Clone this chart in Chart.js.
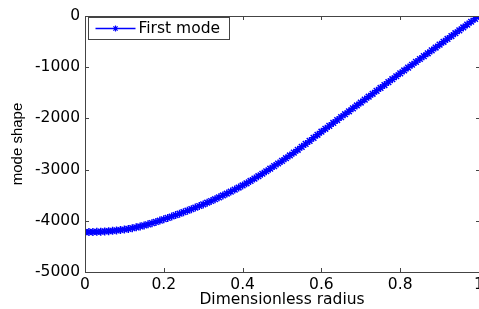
<!DOCTYPE html>
<html>
<head>
<meta charset="utf-8">
<script src="https://cdn.jsdelivr.net/npm/chart.js@4.4.1/dist/chart.umd.min.js"></script>
<style>
  html, body { margin: 0; padding: 0; background: #fff; overflow: hidden; }
  canvas { display: block; }
</style>
</head>
<body>
<canvas id="chart" width="479" height="309"></canvas>
<script>
// raio adimensional (eixo x)
const radius = [
  0.00, 0.01, 0.02, 0.03, 0.04, 0.05, 0.06, 0.07, 0.08, 0.09,
  0.10, 0.11, 0.12, 0.13, 0.14, 0.15, 0.16, 0.17, 0.18, 0.19,
  0.20, 0.21, 0.22, 0.23, 0.24, 0.25, 0.26, 0.27, 0.28, 0.29,
  0.30, 0.31, 0.32, 0.33, 0.34, 0.35, 0.36, 0.37, 0.38, 0.39,
  0.40, 0.41, 0.42, 0.43, 0.44, 0.45, 0.46, 0.47, 0.48, 0.49,
  0.50, 0.51, 0.52, 0.53, 0.54, 0.55, 0.56, 0.57, 0.58, 0.59,
  0.60, 0.61, 0.62, 0.63, 0.64, 0.65, 0.66, 0.67, 0.68, 0.69,
  0.70, 0.71, 0.72, 0.73, 0.74, 0.75, 0.76, 0.77, 0.78, 0.79,
  0.80, 0.81, 0.82, 0.83, 0.84, 0.85, 0.86, 0.87, 0.88, 0.89,
  0.90, 0.91, 0.92, 0.93, 0.94, 0.95, 0.96, 0.97, 0.98, 0.99,
  1.00
];

// forma do modo
const modeShape = [
  -4220, -4220, -4218, -4215, -4212, -4207, -4202, -4195, -4188, -4180,
  -4170, -4158, -4144, -4128, -4110, -4090, -4069, -4046, -4022, -3996,
  -3970, -3943, -3916, -3888, -3860, -3831, -3802, -3772, -3742, -3711,
  -3680, -3647, -3613, -3578, -3542, -3505, -3468, -3430, -3391, -3351,
  -3310, -3267, -3222, -3176, -3129, -3081, -3032, -2982, -2932, -2881,
  -2830, -2778, -2724, -2669, -2613, -2556, -2498, -2439, -2380, -2320,
  -2260, -2203, -2146, -2089, -2032, -1975, -1918, -1861, -1804, -1747,
  -1690, -1633, -1576, -1519, -1462, -1405, -1348, -1291, -1234, -1177,
  -1120, -1064, -1008, -952, -896, -840, -784, -728, -672, -616,
  -560, -504, -448, -392, -336, -280, -224, -168, -112, -56,
  0
];

const xTicks = [0, 0.2, 0.4, 0.6, 0.8, 1];
const yTicks = [-5000, -4000, -3000, -2000, -1000, 0];
const seriesLabel = 'First mode';
const xTitle = 'Dimensionless radius';
const yTitle = 'mode shape';

const axisColor = '#444';
const lineColor = '#0000ff';
const tickFont = { family: 'DejaVu Sans', size: 15.5 };

// Caixa estilo MATLAB com ticks para dentro (borda direita fica fora da imagem)
const boxPlugin = {
  id: 'box',
  afterDatasetsDraw(chart) {
    const { ctx, chartArea: a, scales } = chart;
    const L = a.left + 0.5, T = a.top + 0.5, B = a.bottom + 0.5;
    ctx.save();
    ctx.strokeStyle = axisColor;
    ctx.lineWidth = 1;
    ctx.beginPath();
    ctx.moveTo(a.right + 2, T); ctx.lineTo(L, T); ctx.lineTo(L, B); ctx.lineTo(a.right + 2, B);
    xTicks.forEach(v => {
      const x = Math.round(scales.x.getPixelForValue(v)) + 0.5;
      ctx.moveTo(x, a.bottom); ctx.lineTo(x, a.bottom - 4);
      ctx.moveTo(x, a.top); ctx.lineTo(x, a.top + 4);
    });
    yTicks.forEach(v => {
      const y = Math.round(scales.y.getPixelForValue(v)) + 0.5;
      ctx.moveTo(a.left, y); ctx.lineTo(a.left + 4, y);
      ctx.moveTo(a.right + 1, y); ctx.lineTo(a.right - 3, y);
    });
    ctx.stroke();

    // rotulos do eixo x posicionados pela escala (o ultimo sai da imagem)
    ctx.fillStyle = '#000';
    ctx.font = tickFont.size + 'px "' + tickFont.family + '"';
    ctx.textAlign = 'center';
    ctx.textBaseline = 'top';
    xTicks.forEach(v => {
      ctx.fillText(String(v), scales.x.getPixelForValue(v), a.bottom + 5);
    });
    ctx.restore();
  }
};

// Legenda dentro da area do grafico
const legendPlugin = {
  id: 'boxLegend',
  afterDraw(chart) {
    const { ctx, chartArea: a } = chart;
    const ds = chart.data.datasets[0];
    const bx = a.left + 3.5, by = a.top + 1.5, bw = 141, bh = 22;
    ctx.save();
    ctx.fillStyle = '#fff';
    ctx.fillRect(bx, by, bw, bh);
    ctx.strokeStyle = axisColor;
    ctx.lineWidth = 1;
    ctx.strokeRect(bx, by, bw, bh);
    const cy = by + bh / 2;
    ctx.strokeStyle = ds.borderColor;
    ctx.lineWidth = 1.5;
    ctx.beginPath();
    ctx.moveTo(bx + 7, cy); ctx.lineTo(bx + 47, cy);
    ctx.stroke();
    const mx = bx + 27, r = 3;
    ctx.lineWidth = 1.2;
    ctx.beginPath();
    ctx.moveTo(mx - r, cy); ctx.lineTo(mx + r, cy);
    ctx.moveTo(mx, cy - r); ctx.lineTo(mx, cy + r);
    ctx.moveTo(mx - r * 0.7, cy - r * 0.7); ctx.lineTo(mx + r * 0.7, cy + r * 0.7);
    ctx.moveTo(mx - r * 0.7, cy + r * 0.7); ctx.lineTo(mx + r * 0.7, cy - r * 0.7);
    ctx.stroke();
    ctx.fillStyle = '#000';
    ctx.font = '15.5px "DejaVu Sans"';
    ctx.textBaseline = 'middle';
    ctx.textAlign = 'left';
    ctx.fillText(ds.label, bx + 50, cy + 0.5);
    ctx.restore();
  }
};

new Chart(document.getElementById('chart'), {
  type: 'line',
  data: {
    datasets: [{
      label: seriesLabel,
      data: radius.map((r, i) => ({ x: r, y: modeShape[i] })),
      borderColor: lineColor,
      backgroundColor: lineColor,
      borderWidth: 1.5,
      pointStyle: 'star',
      pointRadius: 4,
      pointBorderColor: lineColor,
      pointBorderWidth: 1.5,
      fill: false,
      tension: 0
    }]
  },
  options: {
    responsive: false,
    animation: false,
    // sem autoPadding: os marcadores nao empurram a borda direita
    layout: { autoPadding: false, padding: { top: 16, right: 0, left: 0, bottom: 0 } },
    plugins: {
      legend: { display: false },
      tooltip: { enabled: false }
    },
    scales: {
      x: {
        type: 'linear',
        min: 0,
        max: 1,
        afterBuildTicks: s => { s.ticks = xTicks.map(v => ({ value: v })); },
        afterFit: s => { s.height = 37; },
        grid: { display: false, drawTicks: false, tickLength: 0 },
        border: { display: false },
        ticks: { display: false },
        title: {
          display: true, text: xTitle, color: '#000',
          font: { family: 'DejaVu Sans', size: 15.5 },
          padding: { top: 0, bottom: 0 }
        }
      },
      y: {
        type: 'linear',
        min: -5000,
        max: 0,
        afterBuildTicks: s => { s.ticks = yTicks.map(v => ({ value: v })); },
        afterFit: s => { s.width = 85; },
        grid: { display: false, drawTicks: false, tickLength: 0 },
        border: { display: false },
        ticks: {
          font: tickFont, color: '#000', padding: 5,
          autoSkip: false,
          callback: v => String(v)
        },
        title: {
          display: true, text: yTitle, color: '#000',
          font: { family: 'Liberation Sans', size: 15 },
          padding: { top: 9, bottom: 0 }
        }
      }
    }
  },
  plugins: [boxPlugin, legendPlugin]
});
</script>
</body>
</html>
